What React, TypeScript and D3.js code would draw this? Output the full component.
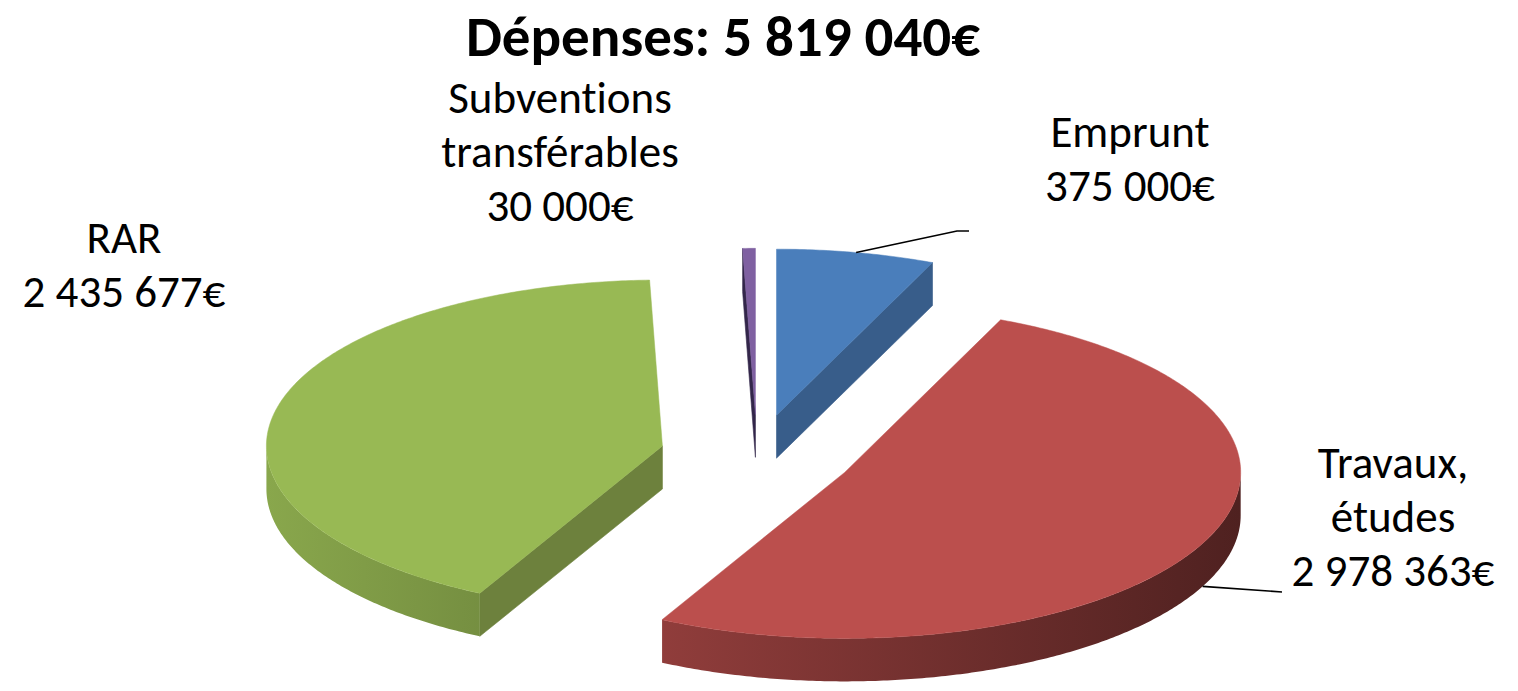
import React from "react";
import * as d3 from "d3";

const categories = ["Emprunt", "Travaux, études", "RAR", "Subventions transférables"];
const values = [375000, 2978363, 2435677, 30000];
const labelNames = [["Emprunt"], ["Travaux,", "études"], ["RAR"], ["Subventions", "transférables"]];
const topColors = ["#4A7EBB", "#BB4F4D", "#98B954", "#7F60A1"];
const faceColors = ["#385D8A", "#7E3230", "#6D813D", "#33264A"];
const titlePrefix = "Dépenses: ";

const W = 1518;
const H = 691;
const CX = 757;
const CY = 455;
const R = 396;
const RY = 166;
const DEPTH = 43;
const EXPLODE = 97;
const K = RY / R;

const locale = d3.formatLocale({ decimal: ",", thousands: " ", grouping: [3], currency: ["", "€"] });
const fmt = (v: number) => locale.format(",d")(v) + "€";

type Pt = [number, number];

function proj(cx: number, cy: number, a: number, r: number, z: number): Pt {
  return [cx + r * R * Math.sin(a), cy - r * RY * Math.cos(a) + z];
}

function shade(hex: string, f: number) {
  const c = d3.rgb(hex);
  return d3.rgb(c.r * f, c.g * f, c.b * f).formatHex();
}

const labelPos = [
  { x: 1130, y: 147 },
  { x: 1393, y: 478 },
  { x: 124, y: 253 },
  { x: 560, y: 113 },
];
const leaderEnds: Pt[][] = [
  [[957, 231], [969, 231]],
  [[1282, 592]],
  [],
  [],
];

export default function App() {
  const pie = d3.pie<number>().sort(null).value((d) => d);
  const arcs = pie(values);
  const total = d3.sum(values);
  const line = d3.line();

  const slices = arcs.map((a, i) => {
    const mid = (a.startAngle + a.endAngle) / 2;
    const cx = CX + EXPLODE * Math.sin(mid);
    const cy = CY - EXPLODE * K * Math.cos(mid);
    return { a, i, mid, cx, cy };
  });
  const order = [...slices].sort((p, q) => p.cy - q.cy);

  const defs: React.ReactNode[] = [];
  const els: React.ReactNode[] = [];
  order.forEach(({ a, i, cx, cy }) => {
    const a0 = a.startAngle;
    const a1 = a.endAngle;
    const faces: [number, number][] = [
      [a0, a0 - Math.PI / 2],
      [a1, a1 + Math.PI / 2],
    ];
    faces.forEach(([ang, nrm], j) => {
      if (Math.cos(nrm) < -1e-6) {
        const pts: Pt[] = [
          proj(cx, cy, ang, 0, 0),
          proj(cx, cy, ang, 1, 0),
          proj(cx, cy, ang, 1, DEPTH),
          proj(cx, cy, ang, 0, DEPTH),
        ];
        els.push(<path key={`f${i}-${j}`} d={line(pts) + "Z"} fill={faceColors[i]} stroke={faceColors[i]} strokeWidth={0.6} />);
      }
    });
    const s0 = Math.max(a0, Math.PI / 2);
    const s1 = Math.min(a1, (3 * Math.PI) / 2);
    if (s1 > s0) {
      const gid = `g${i}`;
      defs.push(
        <linearGradient key={gid} id={gid} gradientUnits="userSpaceOnUse" x1={cx - R} y1={0} x2={cx + R} y2={0}>
          <stop offset="0" stopColor={shade(topColors[i], 0.9)} />
          <stop offset="1" stopColor={shade(topColors[i], 0.42)} />
        </linearGradient>
      );
      const n = Math.max(4, Math.ceil((s1 - s0) / 0.01));
      const upper: Pt[] = [];
      const lower: Pt[] = [];
      for (let k = 0; k <= n; k++) {
        const t = s0 + ((s1 - s0) * k) / n;
        upper.push(proj(cx, cy, t, 1, 0));
        lower.push(proj(cx, cy, t, 1, DEPTH));
      }
      const pts = [...upper, ...lower.reverse()];
      els.push(<path key={`s${i}`} d={line(pts) + "Z"} fill={`url(#${gid})`} />);
    }
    const steps = Math.max(2, Math.ceil((a1 - a0) / 0.01));
    const tp: Pt[] = [proj(cx, cy, 0, 0, 0)];
    for (let k = 0; k <= steps; k++) {
      tp.push(proj(cx, cy, a0 + ((a1 - a0) * k) / steps, 1, 0));
    }
    els.push(<path key={`t${i}`} d={line(tp) + "Z"} fill={topColors[i]} stroke={topColors[i]} strokeWidth={0.5} />);
  });

  const leaders: React.ReactNode[] = [];
  slices.forEach(({ i, mid, cx, cy }) => {
    const ends = leaderEnds[i];
    if (!ends.length) return;
    const onSide = Math.cos(mid) < 0;
    const start = proj(cx, cy, mid, 1, onSide ? DEPTH : 0);
    leaders.push(<path key={`l${i}`} d={line([start, ...ends]) || ""} fill="none" stroke="#000" strokeWidth={1.6} />);
  });

  const font = "Carlito, Calibri, Lato, sans-serif";
  const LH = 54;
  const noLig = { fontVariantLigatures: "none" as const, fontFeatureSettings: '"liga" 0, "clig" 0' };

  return (
    <svg width={W} height={H} viewBox={`0 0 ${W} ${H}`} style={{ position: "absolute", left: 0, top: 0, background: "#fff" }}>
      <defs>{defs}</defs>
      <text x={723} y={56} textAnchor="middle" fontFamily={font} fontWeight="bold" fontSize={57} fill="#000" style={noLig}>
        {titlePrefix + fmt(total)}
      </text>
      {els}
      {leaders}
      {slices.map(({ i }) => {
        const lines = [...labelNames[i], fmt(values[i])];
        const p = labelPos[i];
        return (
          <text key={`lab${i}`} x={p.x} y={p.y} textAnchor="middle" fontFamily={font} fontSize={45} fill="#000" style={noLig}>
            {lines.map((t, j) => (
              <tspan key={j} x={p.x} y={p.y + j * LH}>
                {t}
              </tspan>
            ))}
          </text>
        );
      })}
    </svg>
  );
}
